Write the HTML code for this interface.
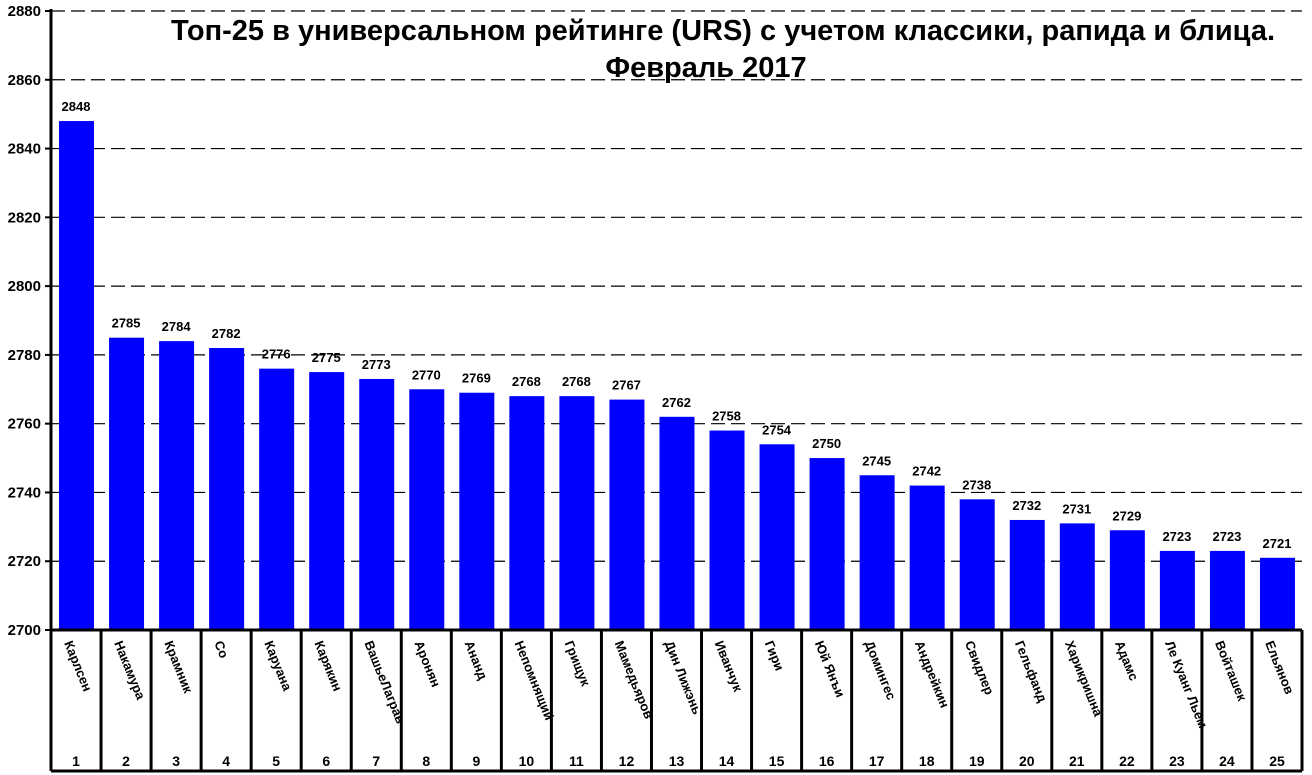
<!DOCTYPE html>
<html><head><meta charset="utf-8"><style>
body{margin:0;background:#fff;}
svg{display:block;font-family:"Liberation Sans",Arial,sans-serif;}
</style></head><body>
<svg id="chart" width="1312" height="775">
<text x="723" y="40" text-anchor="middle" font-size="29" font-weight="bold">Топ-25 в универсальном рейтинге (URS) с учетом классики, рапида и блица.</text>
<text x="706" y="77" text-anchor="middle" font-size="29" font-weight="bold">Февраль 2017</text>
<g id="grid"></g><g id="bars"></g><g id="table"></g><g id="axis"></g>
</svg>
<script>
const names=["Карлсен","Накамура","Крамник","Со","Каруана","Карякин","ВашьеЛаграв","Аронян","Ананд","Непомнящий","Грищук","Мамедьяров","Дин Лижэнь","Иванчук","Гири","Юй Янъи","Домингес","Андрейкин","Свидлер","Гельфанд","Харикришна","Адамс","Ле Куанг Льем","Войташек","Ельянов"];
const values=[2848,2785,2784,2782,2776,2775,2773,2770,2769,2768,2768,2767,2762,2758,2754,2750,2745,2742,2738,2732,2731,2729,2723,2723,2721];
const ticks=[2700,2720,2740,2760,2780,2800,2820,2840,2860,2880];
const NS="http://www.w3.org/2000/svg";
const X0=51,X1=1302,Y0=630,Y1=11,VMIN=2700,VMAX=2880;
const cw=(X1-X0)/names.length;
const y=v=>Y0-(v-VMIN)/(VMAX-VMIN)*(Y0-Y1);
const x=i=>X0+i*cw;
function mk(t,a,p){const e=document.createElementNS(NS,t);for(const k in a)e.setAttribute(k,a[k]);p.appendChild(e);return e;}
const grid=document.getElementById('grid'),bars=document.getElementById('bars'),table=document.getElementById('table'),axis=document.getElementById('axis');
ticks.forEach(t=>{
  if(t>VMIN){const l=mk('line',{x1:X0,x2:X1,y1:y(t),y2:y(t),stroke:'#000','stroke-width':1.2,'stroke-dasharray':'14 6'},grid);
  
  }
  const tk=mk('line',{x1:X0-6,x2:X0,y1:y(t),y2:y(t),stroke:'#000','stroke-width':2},axis);
  
  
  const tx=mk('text',{x:X0-10,y:y(t)+5,'text-anchor':'end','font-size':15,'font-weight':'bold'},axis);
  tx.textContent=t;
  
  
});
const ax=mk('line',{x1:X0,x2:X0,y1:Y1-2,y2:771,stroke:'#000','stroke-width':3},axis);


const bl=mk('line',{x1:X0,x2:X1,y1:Y0,y2:Y0,stroke:'#000','stroke-width':3},axis);


const bb=mk('line',{x1:X0,x2:X1,y1:771,y2:771,stroke:'#000','stroke-width':3},axis);


values.forEach((v,i)=>{
  const r=mk('rect',{x:x(i)+8,y:y(v),width:35,height:Y0-y(v),fill:'#0000ff'},bars);
  
  
  const t=mk('text',{x:x(i)+cw/2,y:y(v)-10,'text-anchor':'middle','font-size':13,'font-weight':'bold'},bars);
  t.textContent=v;
  
  
  const vl=mk('line',{x1:x(i+1),x2:x(i+1),y1:Y0,y2:771,stroke:'#000','stroke-width':3},table);
  
  
  const n=mk('text',{x:0,y:0,'font-size':13,'font-weight':'bold',transform:`translate(${x(i)+13},${Y0+13}) rotate(68)`},table);
  n.textContent=names[i];
  
  
  const num=mk('text',{x:x(i)+cw/2,y:766,'text-anchor':'middle','font-size':14,'font-weight':'bold'},table);
  num.textContent=i+1;
  
  
});
</script>
</body></html>
